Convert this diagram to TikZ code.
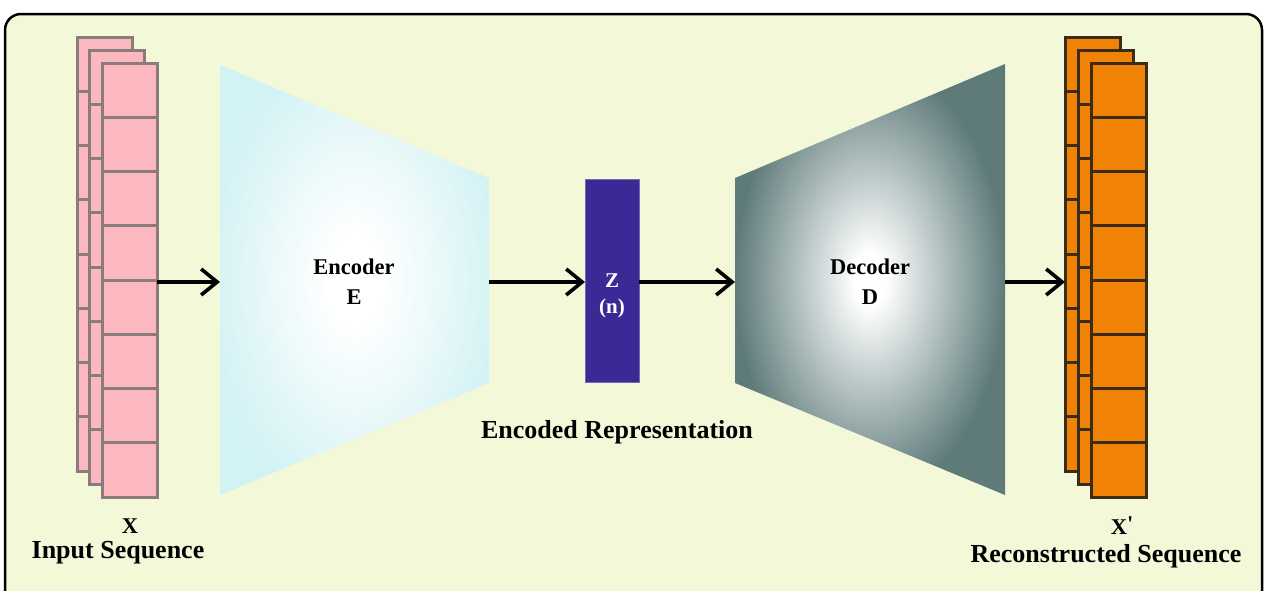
\documentclass[tikz,border=0pt]{standalone}
\usepackage{fontspec}
\setmainfont{Liberation Serif}
\usetikzlibrary{arrows.meta}
\definecolor{bg}{HTML}{F3F8D9}
\definecolor{pinkfill}{HTML}{FBB8BE}
\definecolor{pinkline}{HTML}{8C7B7D}
\definecolor{orangefill}{HTML}{F08206}
\definecolor{orangeline}{HTML}{3D2B1A}
\definecolor{encedge}{HTML}{D3F2F4}
\definecolor{decedge}{HTML}{5E7B7A}
\definecolor{zfill}{HTML}{3B2A96}
\pgfdeclareradialshading{encshade}{\pgfpoint{0bp}{0bp}}{color(0bp)=(white); color(5bp)=(white); color(27bp)=(encedge); color(50bp)=(encedge)}
\pgfdeclareradialshading{decshade}{\pgfpoint{0bp}{0bp}}{color(0bp)=(white); color(3bp)=(white); color(25bp)=(decedge); color(50bp)=(decedge)}
\begin{document}
\begin{tikzpicture}[x=1pt,y=-1pt,
  conn/.style={line width=3.6pt, -{Straight Barb[length=16pt,width=26pt]}},
  pinkcell/.style={draw=pinkline, fill=pinkfill, line width=3pt},
  orangecell/.style={draw=orangeline, fill=orangefill, line width=3pt},
  lbl/.style={font=\bfseries\fontsize{22.5}{30}\selectfont, align=center, inner sep=0pt},
  zlbl/.style={font=\bfseries\fontsize{21}{26}\selectfont, align=center, inner sep=0pt, text=white},
  biglbl/.style={font=\bfseries\fontsize{26}{28}\selectfont, inner sep=0pt},
  zbox/.style={fill=zfill, draw=zfill!70!white, line width=0.8pt, minimum width=54pt, minimum height=203pt, inner sep=0pt}]
\useasboundingbox (0,0) rectangle (1265,590);
\begin{scope}
  \clip (0,0) rectangle (1265,590);
  \draw[fill=bg, line width=2.5pt, rounded corners=16pt] (5,14) rectangle (1262,620);
\end{scope}
% input stack
\foreach \k in {0,1,2}{
  \foreach \i in {0,...,7}{
    \draw[pinkcell] ({77+12.5*\k},{37+13*\k+54.25*\i}) rectangle +(55,54.25);
  }
}
% output stack
\foreach \k in {0,1,2}{
  \foreach \i in {0,...,7}{
    \draw[orangecell] ({1065+13*\k},{37+13*\k+54.25*\i}) rectangle +(55,54.25);
  }
}
\coordinate (xinE) at (157,282);
\coordinate (xoutW) at (1065,282);
% encoder
\shade[shading=encshade] (220,65) -- (489,178) -- (489,383) -- (220,495) -- cycle;
\coordinate (encW) at (220,282);
\coordinate (encE) at (489,282);
\node[lbl] (enclbl) at (354,282) {Encoder\\E};
% decoder
\shade[shading=decshade] (735,178) -- (1005,64) -- (1005,495) -- (735,383) -- cycle;
\coordinate (decW) at (735,282);
\coordinate (decE) at (1005,282);
\node[lbl] (declbl) at (870,282) {Decoder\\D};
% latent
\node[zbox] (z) at (612,280.5) {};
\node[zlbl] (zlabel) at (612,296) {Z\\(n)};
\coordinate (zW) at (585,282);
\coordinate (zE) at (639,282);
% arrows
\draw[conn] (xinE) -- (encW);
\draw[conn] (encE) -- (zW);
\draw[conn] (zE) -- (decW);
\draw[conn] (decE) -- (xoutW);
% labels
\node[biglbl] (enclabel) at (617,432) {Encoded Representation};
\node[lbl] (xlbl) at (130,526) {X};
\node[biglbl] (inlbl) at (118,553) {Input Sequence};
\node[lbl] (xplbl) at (1122,526) {X\raisebox{0.3ex}{\textquotesingle}};
\node[biglbl] (outlbl) at (1106,556) {Reconstructed Sequence};
\end{tikzpicture}
\end{document}
